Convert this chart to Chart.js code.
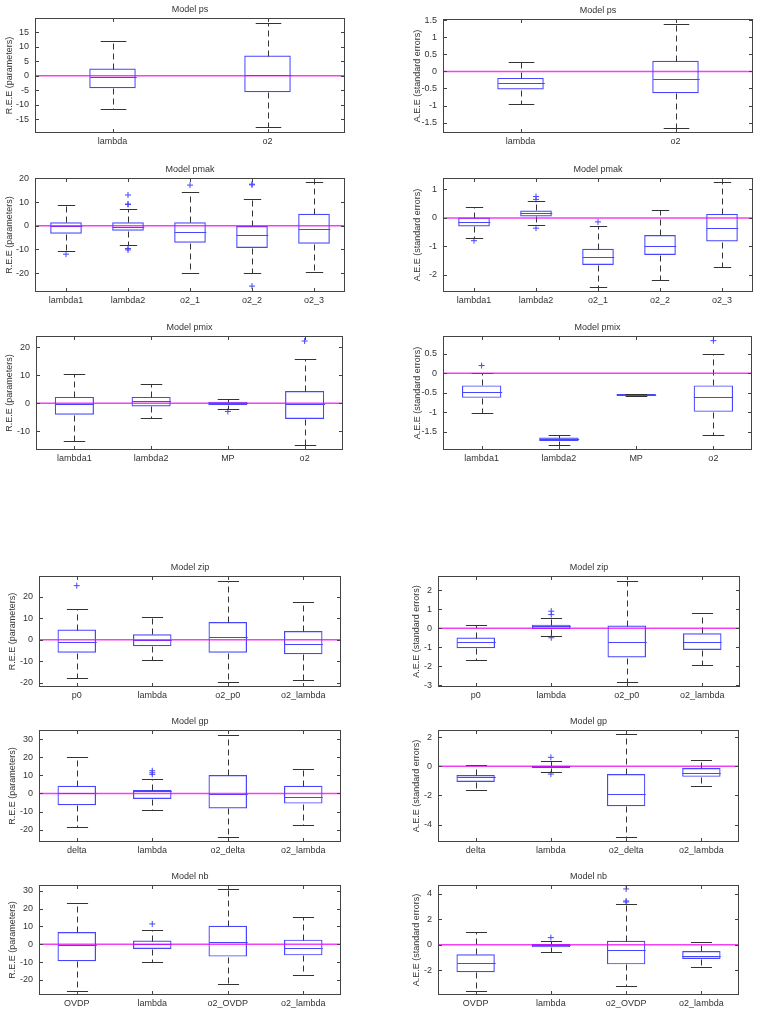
<!DOCTYPE html>
<html lang="en">
<head>
<meta charset="UTF-8">
<title>Model boxplots</title>
<script src="https://cdn.jsdelivr.net/npm/chart.js"></script>
<style>
  body { margin: 0; background: #fff; }
  #page { position: relative; width: 761px; height: 1014px; overflow: hidden; }
  .panel { position: absolute; }
</style>
</head>
<body>
<div id="page"></div>
<script>
// each row: [lower whisker, q1, median, q3, upper whisker]; outliers: [category index, value]
const psLabels = ['lambda', 'o2'];
const psRee = [[-11.5, -4.3, -0.3, 2.5, 12], [-17.8, -5.7, 0.2, 7, 18.2]];
const psReeOut = [];
const psReeRange = [-19.8, 20];
const psReeTicks = [-15, -10, -5, 0, 5, 10, 15];
const psAee = [[-0.96, -0.53, -0.34, -0.19, 0.28], [-1.64, -0.64, -0.22, 0.31, 1.39]];
const psAeeOut = [];
const psAeeRange = [-1.8, 1.53];
const psAeeTicks = [-1.5, -1, -0.5, 0, 0.5, 1, 1.5];

const pmakLabels = ['lambda1', 'lambda2', 'o2_1', 'o2_2', 'o2_3'];
const pmakRee = [[-10.6, -3.4, -0.3, 1.5, 8.9], [-8, -2.1, -0.4, 1.5, 6.9], [-19.9, -7.2, -2.5, 1.5, 14.2],
  [-20.1, -9.4, -4.1, -0.1, 11.5], [-19.4, -7.6, -1.4, 5.1, 18.5]];
const pmakReeOut = [[0, -12], [1, 13], [1, 9.2], [1, 9.0], [1, -9.6], [1, -10.2], [2, 17.2], [3, 17.6], [3, 17.3], [3, -25.5]];
const pmakReeRange = [-28, 20.2];
const pmakReeTicks = [-20, -10, 0, 10, 20];
const pmakAee = [[-0.69, -0.3, -0.13, 0.01, 0.4], [-0.25, 0.05, 0.16, 0.26, 0.58], [-2.41, -1.65, -1.36, -1.08, -0.27],
  [-2.18, -1.3, -0.98, -0.6, 0.26], [-1.71, -0.83, -0.36, 0.14, 1.25]];
const pmakAeeOut = [[0, -0.8], [1, 0.75], [1, 0.65], [1, -0.36], [2, -0.14]];
const pmakAeeRange = [-2.6, 1.4];
const pmakAeeTicks = [-2, -1, 0, 1];

const pmixLabels = ['lambda1', 'lambda2', 'MP', 'o2'];
const pmixRee = [[-13.6, -4.1, -0.4, 2.3, 10.6], [-5.1, -1.1, 0.8, 2.3, 7.0], [-1.9, -0.6, 0, 0.6, 1.7], [-14.8, -5.6, -0.4, 4.4, 16]];
const pmixReeOut = [[2, -2.9], [3, 22.3]];
const pmixReeRange = [-16.7, 24.1];
const pmixReeTicks = [-10, 0, 10, 20];
const pmixAee = [[-1.02, -0.63, -0.47, -0.31, 0.02], [-1.84, -1.74, -1.69, -1.65, -1.58],
  [-0.57, -0.56, -0.545, -0.53, -0.52], [-1.58, -0.99, -0.6, -0.31, 0.49]];
const pmixAeeOut = [[0, 0.2], [3, 0.84]];
const pmixAeeRange = [-1.97, 0.96];
const pmixAeeTicks = [-1.5, -1, -0.5, 0, 0.5];

const zipLabels = ['p0', 'lambda', 'o2_p0', 'o2_lambda'];
const zipRee = [[-18, -6.1, -0.9, 4.7, 14.5], [-9.3, -3.1, -0.2, 2.5, 10.4], [-19.8, -6.1, 1.2, 8.2, 27.4], [-18.8, -6.8, -1.9, 4, 17.4]];
const zipReeOut = [[0, 25.2]];
const zipReeRange = [-22.1, 29.7];
const zipReeTicks = [-20, -10, 0, 10, 20];
const zipAee = [[-1.65, -1.05, -0.74, -0.49, 0.19], [-0.4, -0.04, 0.1, 0.19, 0.53], [-2.82, -1.54, -0.72, 0.14, 2.49], [-1.93, -1.14, -0.72, -0.26, 0.81]];
const zipAeeOut = [[1, 0.9], [1, 0.72], [1, -0.5]];
const zipAeeRange = [-3.09, 2.75];
const zipAeeTicks = [-3, -2, -1, 0, 1, 2];

const gpLabels = ['delta', 'lambda', 'o2_delta', 'o2_lambda'];
const gpRee = [[-18.7, -6.5, 0, 4.3, 20], [-9.3, -3, 1.5, 2, 8.1], [-24, -8.3, -0.4, 10.2, 32.6], [-17.2, -5.6, -1.9, 4.3, 13.7]];
const gpReeOut = [[1, 12.6], [1, 11.5], [1, 10.6]];
const gpReeRange = [-26.9, 35.2];
const gpReeTicks = [-20, -10, 0, 10, 20, 30];
const gpAee = [[-1.64, -1.08, -0.76, -0.6, 0.07], [-0.42, -0.12, 0, 0.05, 0.39], [-4.87, -2.74, -1.87, -0.53, 2.21], [-1.38, -0.72, -0.44, -0.12, 0.44]];
const gpAeeOut = [[1, 0.62], [1, -0.53]];
const gpAeeRange = [-5.2, 2.5];
const gpAeeTicks = [-4, -2, 0, 2];

const nbLabels = ['OVDP', 'lambda', 'o2_OVDP', 'o2_lambda'];
const nbRee = [[-25.9, -9.5, -0.2, 6.9, 23.3], [-9.7, -2.6, 0, 2.1, 8], [-22.4, -6.9, 1.1, 10.4, 30.8], [-17.2, -6.2, -2.1, 2.6, 15.5]];
const nbReeOut = [[1, 11.4]];
const nbReeRange = [-28.4, 33.2];
const nbReeTicks = [-20, -10, 0, 10, 20, 30];
const nbAee = [[-3.6, -2.16, -1.41, -0.76, 1.02], [-0.57, -0.21, -0.03, 0.05, 0.31], [-3.26, -1.54, -0.44, 0.31, 3.16], [-1.75, -1.12, -0.91, -0.5, 0.18]];
const nbAeeOut = [[1, 0.55], [2, 4.36], [2, 3.42], [2, 3.34]];
const nbAeeRange = [-3.94, 4.67];
const nbAeeTicks = [-2, 0, 2, 4];

const REE = 'R.E.E (parameters)';
const AEE = 'A.E.E (standard errors)';
const BLUE = 'rgb(70,70,255)';
const FONT = { family: '"Liberation Sans", Arial, sans-serif', size: 9, lineHeight: 1.2 };

// plot area [x, y, w, h] in page pixels, y-title centre x
const panels = [
  { t: 'Model ps', yt: REE, labels: psLabels, stats: psRee, out: psReeOut, range: psReeRange, ticks: psReeTicks, rect: [35, 18, 310, 115], tx: 10, frac: 0.3 },
  { t: 'Model ps', yt: AEE, labels: psLabels, stats: psAee, out: psAeeOut, range: psAeeRange, ticks: psAeeTicks, rect: [443, 19, 310, 114], tx: 418, frac: 0.3 },
  { t: 'Model pmak', yt: REE, labels: pmakLabels, stats: pmakRee, out: pmakReeOut, range: pmakReeRange, ticks: pmakReeTicks, rect: [35, 178, 310, 114], tx: 10, frac: 0.51 },
  { t: 'Model pmak', yt: AEE, labels: pmakLabels, stats: pmakAee, out: pmakAeeOut, range: pmakAeeRange, ticks: pmakAeeTicks, rect: [443, 178, 310, 114], tx: 418, frac: 0.51 },
  { t: 'Model pmix', yt: REE, labels: pmixLabels, stats: pmixRee, out: pmixReeOut, range: pmixReeRange, ticks: pmixReeTicks, rect: [36, 336, 307, 114], tx: 10, frac: 0.51 },
  { t: 'Model pmix', yt: AEE, labels: pmixLabels, stats: pmixAee, out: pmixAeeOut, range: pmixAeeRange, ticks: pmixAeeTicks, rect: [443, 336, 309, 114], tx: 418, frac: 0.51 },
  { t: 'Model zip', yt: REE, labels: zipLabels, stats: zipRee, out: zipReeOut, range: zipReeRange, ticks: zipReeTicks, rect: [39, 576, 302, 111], tx: 13, frac: 0.51 },
  { t: 'Model zip', yt: AEE, labels: zipLabels, stats: zipAee, out: zipAeeOut, range: zipAeeRange, ticks: zipAeeTicks, rect: [438, 576, 302, 111], tx: 417, frac: 0.51 },
  { t: 'Model gp', yt: REE, labels: gpLabels, stats: gpRee, out: gpReeOut, range: gpReeRange, ticks: gpReeTicks, rect: [39, 730, 302, 112], tx: 13, frac: 0.51 },
  { t: 'Model gp', yt: AEE, labels: gpLabels, stats: gpAee, out: gpAeeOut, range: gpAeeRange, ticks: gpAeeTicks, rect: [438, 730, 301, 112], tx: 417, frac: 0.51 },
  { t: 'Model nb', yt: REE, labels: nbLabels, stats: nbRee, out: nbReeOut, range: nbReeRange, ticks: nbReeTicks, rect: [39, 885, 302, 110], tx: 13, frac: 0.51 },
  { t: 'Model nb', yt: AEE, labels: nbLabels, stats: nbAee, out: nbAeeOut, range: nbAeeRange, ticks: nbAeeTicks, rect: [438, 885, 301, 110], tx: 417, frac: 0.51 }
];

function seg(ctx, x1, y1, x2, y2) {
  ctx.beginPath(); ctx.moveTo(x1, y1); ctx.lineTo(x2, y2); ctx.stroke();
}

// whiskers, caps, medians, zero line, frame with inner ticks (matlab look)
const boxPlugin = {
  id: 'boxStats',
  afterDatasetsDraw(chart, args, opts) {
    const { ctx, chartArea: a, scales: { x, y } } = chart;
    const bars = chart.getDatasetMeta(0).data;
    const px = v => Math.round(v) + 0.5;
    ctx.save();
    ctx.lineWidth = 1;
    opts.stats.forEach((s, i) => {
      const cx = px(x.getPixelForValue(i));
      const half = bars[i].width / 2;
      const cap = half * 0.55;
      const [lo, q1, med, q3, hi] = s.map(v => px(y.getPixelForValue(v)));
      ctx.strokeStyle = '#333';
      ctx.setLineDash([6, 4]);
      seg(ctx, cx, q3, cx, hi);
      seg(ctx, cx, q1, cx, lo);
      ctx.setLineDash([]);
      seg(ctx, cx - cap, hi, cx + cap, hi);
      seg(ctx, cx - cap, lo, cx + cap, lo);
      ctx.strokeStyle = BLUE;
      seg(ctx, cx - half, med, cx + half, med);
    });
    const z = y.getPixelForValue(0);
    ctx.strokeStyle = 'rgba(240,0,240,0.75)';
    ctx.lineWidth = 1.5;
    seg(ctx, a.left, z, a.right, z);
    ctx.restore();
  },
  afterDraw(chart) {
    const { ctx, chartArea: a, scales: { x, y } } = chart;
    const px = v => Math.round(v) + 0.5;
    ctx.save();
    ctx.strokeStyle = '#444';
    ctx.lineWidth = 1;
    ctx.strokeRect(px(a.left), px(a.top), Math.round(a.right - a.left) - 1, Math.round(a.bottom - a.top) - 1);
    y.ticks.forEach(t => {
      const ty = px(y.getPixelForValue(t.value));
      seg(ctx, a.left, ty, a.left + 4, ty);
      seg(ctx, a.right - 4, ty, a.right, ty);
    });
    x.ticks.forEach((t, i) => {
      const tx = px(x.getPixelForValue(i));
      seg(ctx, tx, a.top, tx, a.top + 4);
      seg(ctx, tx, a.bottom - 4, tx, a.bottom);
    });
    ctx.restore();
  }
};

const page = document.getElementById('page');

function makePanel(p) {
  const [rx, ry, rw, rh] = p.rect;
  const left = rx < 380 ? 0 : 383;
  const axisW = rx - left;
  const cv = document.createElement('canvas');
  cv.width = axisW + rw + 6;
  cv.height = rh + 34;
  cv.className = 'panel';
  cv.style.left = left + 'px';
  cv.style.top = (ry - 18) + 'px';
  page.appendChild(cv);

  new Chart(cv, {
    type: 'bar',
    data: {
      labels: p.labels,
      datasets: [
        {
          type: 'bar',
          data: p.stats.map(s => [s[1], s[3]]),
          backgroundColor: 'rgba(0,0,0,0)',
          borderColor: BLUE,
          borderWidth: 1.2,
          borderSkipped: false,
          barPercentage: p.frac,
          categoryPercentage: 1,
          order: 2
        },
        {
          type: 'line',
          data: p.out.map(o => ({ x: p.labels[o[0]], y: o[1] })),
          showLine: false,
          pointStyle: 'cross',
          pointRadius: 3,
          pointHoverRadius: 3,
          borderColor: BLUE,
          backgroundColor: BLUE,
          borderWidth: 1,
          order: 1
        }
      ]
    },
    options: {
      responsive: false,
      animation: false,
      events: [],
      layout: { padding: { left: 0, right: 6, top: 0, bottom: 0 } },
      plugins: {
        legend: { display: false },
        tooltip: { enabled: false },
        title: {
          display: true, text: p.t, fullSize: false, color: '#333',
          font: { ...FONT, weight: 'normal' }, padding: { top: 4, bottom: 3.2 }
        },
        boxStats: { stats: p.stats }
      },
      scales: {
        x: {
          grid: { display: false, drawTicks: false },
          border: { display: false },
          ticks: { font: FONT, color: '#333', padding: 3, maxRotation: 0, autoSkip: false },
          afterFit: s => { s.height = 16; }
        },
        y: {
          min: p.range[0],
          max: p.range[1],
          bounds: 'data',
          grid: { display: false, drawTicks: false },
          border: { display: false },
          afterBuildTicks: s => { s.ticks = p.ticks.map(v => ({ value: v })); },
          ticks: { font: FONT, color: '#333', padding: 6, autoSkip: false, callback: v => String(+v.toFixed(2)) },
          title: { display: true, text: p.yt, font: FONT, color: '#333', padding: { top: p.tx - left - 5.4, bottom: 0 } },
          afterFit: s => { s.width = axisW; }
        }
      }
    },
    plugins: [boxPlugin]
  });
}

panels.forEach(makePanel);
</script>
</body>
</html>
